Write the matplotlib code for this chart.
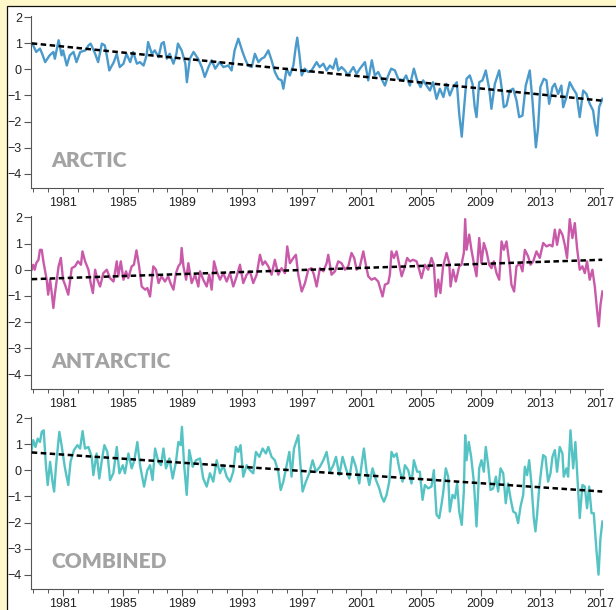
import matplotlib
matplotlib.use("Agg")
import matplotlib.pyplot as plt
from matplotlib.patches import Rectangle
import numpy as np

# ---------------- data ----------------
arctic_years = [1978.85,1979.0,1979.2,1979.45,1979.6,1979.8,1980.1,1980.35,1980.45,1980.7,1980.9,1981.0,1981.25,1981.45,1981.7,1981.9,1982.15,1982.5,1982.7,1982.85,1983.15,1983.35,1983.6,1983.8,1983.95,1984.1,1984.4,1984.6,1984.8,1985.05,1985.25,1985.5,1985.7,1985.95,1986.15,1986.4,1986.6,1986.7,1986.95,1987.15,1987.4,1987.6,1987.75,1987.95,1988.15,1988.4,1988.6,1988.7,1988.95,1989.2,1989.3,1989.5,1989.75,1990.05,1990.3,1990.5,1990.75,1990.96,1991.2,1991.5,1991.75,1992.08,1992.3,1992.5,1992.75,1993.0,1993.2,1993.4,1993.65,1993.86,1994.1,1994.3,1994.5,1994.76,1994.98,1995.2,1995.43,1995.65,1995.77,1995.99,1996.2,1996.44,1996.6,1996.7,1996.84,1997.0,1997.2,1997.44,1997.66,1998.0,1998.2,1998.45,1998.67,1998.89,1999.1,1999.3,1999.45,1999.67,1999.9,2000.1,2000.46,2000.68,2000.9,2001.24,2001.46,2001.7,2001.9,2002.13,2002.35,2002.58,2002.8,2003.0,2003.25,2003.47,2003.8,2004.0,2004.25,2004.52,2004.74,2004.97,2005.14,2005.37,2005.6,2005.8,2006.04,2006.26,2006.5,2006.7,2006.93,2007.15,2007.4,2007.56,2007.73,2007.87,2008.05,2008.27,2008.45,2008.6,2008.72,2008.9,2009.12,2009.34,2009.57,2009.72,2009.95,2010.24,2010.4,2010.55,2010.73,2010.95,2011.18,2011.4,2011.58,2011.8,2012.02,2012.29,2012.47,2012.63,2012.7,2012.85,2013.0,2013.23,2013.41,2013.59,2013.81,2013.97,2014.19,2014.41,2014.53,2014.75,2014.97,2015.2,2015.42,2015.64,2015.87,2016.09,2016.31,2016.54,2016.65,2016.8,2016.94,2017.16]
arctic_values = [0.99,0.92,0.67,0.8,0.6,0.28,0.54,0.67,0.41,1.12,0.54,0.73,0.15,0.54,0.67,0.28,0.67,0.73,0.92,0.99,0.6,0.28,0.99,0.92,0.47,-0.04,0.28,0.6,0.09,0.22,0.6,0.28,0.67,0.22,0.28,0.15,0.54,1.05,0.6,0.73,0.47,0.99,1.05,0.41,0.6,0.22,0.6,0.99,0.73,0.22,-0.49,0.41,0.67,0.41,0.09,-0.29,0.09,0.35,0.03,0.28,0.09,0.15,-0.04,0.73,1.18,0.73,0.41,0.15,0.09,0.6,0.28,0.41,0.47,0.73,0.35,-0.1,-0.36,-0.42,-0.74,0.03,-0.23,0.15,0.86,1.22,0.6,-0.23,0.03,-0.1,-0.04,0.28,0.09,0.22,-0.04,0.15,0.03,0.41,-0.04,0.09,-0.04,-0.23,0.09,-0.17,0.03,0.28,-0.42,0.35,-0.23,-0.1,-0.36,-0.62,-0.23,0.03,-0.04,-0.36,-0.42,-0.23,-0.62,0.03,-0.42,-0.68,-0.42,-0.62,-0.81,-0.49,-1.13,-0.74,-1.06,-0.55,-1.0,-0.68,-0.49,-1.71,-2.58,-1.58,-0.36,-0.23,-0.55,-1.45,-1.83,-0.49,-0.42,-0.04,-0.74,-1.51,-0.55,-0.04,-0.68,-1.45,-1.38,-0.81,-0.74,-1.19,-1.83,-1.77,-0.62,-0.04,-1.19,-2.47,-2.99,-2.22,-0.68,-0.36,-0.42,-1.32,-0.68,-0.55,-0.94,-0.62,-1.45,-1.06,-0.49,-0.74,-0.94,-1.83,-0.81,-0.94,-1.32,-1.58,-2.09,-2.54,-1.45,-1.13]

antarctic_years = [1978.9,1979.0,1979.1,1979.2,1979.35,1979.45,1979.57,1979.68,1979.9,1980.0,1980.13,1980.24,1980.35,1980.46,1980.7,1980.85,1981.0,1981.13,1981.35,1981.58,1981.8,1982.0,1982.2,1982.3,1982.48,1982.7,1982.85,1983.0,1983.15,1983.3,1983.48,1983.7,1983.93,1984.15,1984.38,1984.6,1984.7,1984.87,1985.05,1985.22,1985.37,1985.6,1985.75,1985.92,1986.1,1986.27,1986.5,1986.65,1986.83,1987.05,1987.23,1987.4,1987.6,1987.83,1988.05,1988.2,1988.4,1988.57,1988.73,1988.88,1988.95,1989.07,1989.25,1989.4,1989.62,1989.85,1990.07,1990.18,1990.4,1990.63,1990.8,1990.96,1991.12,1991.3,1991.52,1991.74,1991.97,1992.19,1992.41,1992.64,1992.86,1993.08,1993.31,1993.53,1993.75,1993.98,1994.2,1994.38,1994.54,1994.76,1994.98,1995.2,1995.43,1995.65,1995.88,1996.03,1996.21,1996.44,1996.61,1996.77,1997.0,1997.22,1997.44,1997.66,1997.82,1998.0,1998.22,1998.45,1998.67,1998.78,1999.0,1999.23,1999.45,1999.67,1999.9,2000.12,2000.34,2000.52,2000.68,2000.9,2001.13,2001.3,2001.46,2001.68,2001.9,2002.13,2002.29,2002.42,2002.58,2002.8,2002.91,2003.02,2003.18,2003.36,2003.54,2003.7,2003.92,2004.07,2004.25,2004.47,2004.7,2004.88,2005.03,2005.26,2005.48,2005.7,2005.86,2005.99,2006.15,2006.3,2006.48,2006.71,2006.89,2006.98,2007.15,2007.33,2007.56,2007.71,2007.87,2007.96,2008.05,2008.23,2008.38,2008.54,2008.72,2008.9,2009.05,2009.21,2009.39,2009.57,2009.72,2009.88,2010.06,2010.24,2010.4,2010.55,2010.73,2010.95,2011.06,2011.24,2011.4,2011.62,2011.8,2011.96,2012.18,2012.34,2012.52,2012.74,2012.96,2013.19,2013.41,2013.63,2013.81,2013.97,2014.12,2014.3,2014.48,2014.64,2014.79,2014.97,2015.15,2015.31,2015.46,2015.64,2015.82,2015.98,2016.13,2016.31,2016.49,2016.65,2016.8,2016.92,2017.03,2017.16]
antarctic_values = [0.0,0.19,0.0,0.25,0.38,0.76,0.76,0.32,-0.38,-0.95,-0.38,-0.89,-1.46,-0.89,0.13,0.45,-0.38,-0.57,-0.95,0.06,0.13,0.32,0.19,0.7,0.32,0.0,-0.51,-0.89,0.0,-0.38,-0.64,-0.13,0.0,-0.32,-0.45,0.32,-0.25,0.32,-0.38,-0.06,-0.32,0.13,0.19,0.74,0.13,-0.64,-0.76,-0.7,-1.02,0.13,0.0,-0.51,-0.25,-0.45,-0.25,-0.51,-0.76,-0.13,0.13,0.25,0.83,0.13,-0.38,0.25,-0.51,-0.19,-0.64,-0.06,-0.38,-0.64,-0.19,-0.76,0.32,-0.06,-0.38,-0.13,-0.45,-0.13,-0.64,-0.25,0.19,-0.51,-0.19,-0.06,-0.51,-0.19,0.57,0.19,0.32,0.13,-0.19,0.38,-0.19,0.06,-0.13,0.89,0.25,0.45,0.57,-0.19,-0.83,-0.51,0.0,0.06,-0.19,-0.64,0.06,-0.06,0.25,0.57,-0.19,-0.06,0.32,0.25,0.0,0.13,0.64,0.45,0.0,0.13,0.7,0.19,-0.25,-0.38,-0.32,-0.45,-0.76,-1.02,-0.57,-0.51,-0.19,0.7,0.45,0.7,0.19,-0.25,0.13,0.45,0.32,0.38,0.32,0.0,-0.32,0.19,0.0,0.45,0.19,-1.02,-0.38,-0.89,0.13,0.64,0.25,-0.64,0.0,-0.45,0.13,0.19,0.64,1.93,0.76,1.34,0.76,0.25,-0.25,1.21,0.25,1.02,0.7,0.19,0.06,0.32,-0.13,-0.38,1.08,0.76,1.08,0.13,-0.57,-0.83,0.13,0.25,-0.06,0.76,0.51,0.19,0.32,0.7,0.45,1.02,0.89,0.95,0.89,1.53,0.95,1.53,1.34,0.95,0.45,1.93,1.21,1.78,0.83,0.0,0.13,-0.13,0.32,-0.38,0.0,-0.64,-1.53,-2.16,-1.34,-0.83]

combined_years = [1978.87,1979.0,1979.15,1979.3,1979.45,1979.57,1979.7,1979.85,1979.97,1980.13,1980.29,1980.4,1980.53,1980.75,1980.9,1981.13,1981.35,1981.5,1981.73,1981.96,1982.14,1982.31,1982.47,1982.7,1982.92,1983.03,1983.25,1983.43,1983.6,1983.77,1983.97,1984.15,1984.37,1984.6,1984.78,1985.0,1985.15,1985.38,1985.6,1985.78,1985.98,1986.16,1986.43,1986.65,1986.83,1987.0,1987.17,1987.39,1987.57,1987.73,1987.9,1988.13,1988.35,1988.57,1988.73,1988.88,1988.97,1989.11,1989.29,1989.46,1989.69,1989.91,1990.18,1990.4,1990.63,1990.85,1991.07,1991.3,1991.52,1991.74,1991.97,1992.19,1992.41,1992.59,1992.75,1992.9,1993.08,1993.31,1993.53,1993.75,1993.93,1994.16,1994.38,1994.6,1994.76,1994.98,1995.2,1995.43,1995.59,1995.77,1995.99,1996.17,1996.32,1996.48,1996.66,1996.77,1996.88,1997.06,1997.28,1997.51,1997.73,1997.95,1998.22,1998.45,1998.67,1998.89,1999.12,1999.3,1999.52,1999.74,1999.96,2000.19,2000.41,2000.63,2000.86,2001.01,2001.17,2001.35,2001.53,2001.75,2001.98,2002.2,2002.35,2002.51,2002.69,2002.87,2003.02,2003.18,2003.36,2003.54,2003.76,2003.92,2004.14,2004.36,2004.52,2004.74,2004.92,2005.1,2005.26,2005.48,2005.7,2005.86,2006.04,2006.22,2006.37,2006.48,2006.66,2006.82,2006.93,2007.11,2007.27,2007.42,2007.56,2007.73,2007.87,2007.96,2008.05,2008.2,2008.36,2008.54,2008.72,2008.9,2009.05,2009.21,2009.34,2009.5,2009.66,2009.84,2010.02,2010.17,2010.33,2010.51,2010.68,2010.84,2011.0,2011.18,2011.35,2011.51,2011.67,2011.85,2011.96,2012.11,2012.25,2012.4,2012.56,2012.67,2012.78,2012.92,2013.07,2013.19,2013.34,2013.52,2013.68,2013.81,2013.97,2014.12,2014.3,2014.48,2014.57,2014.75,2014.86,2015.02,2015.2,2015.35,2015.49,2015.64,2015.82,2015.98,2016.13,2016.27,2016.43,2016.58,2016.76,2016.9,2017.03,2017.16]
combined_values = [0.71,1.16,0.9,1.22,1.09,1.48,1.54,0.2,-0.56,0.33,-0.43,-0.81,0.2,1.48,0.97,0.08,-0.56,0.33,0.78,0.97,0.84,1.51,0.84,0.9,0.52,-0.18,0.65,-0.31,0.39,0.97,0.71,-0.37,-0.11,0.9,-0.11,0.2,-0.11,0.65,0.08,0.39,1.09,0.2,-0.62,0.01,0.2,-0.37,0.84,0.33,0.2,0.84,0.08,0.46,-0.31,0.33,1.09,0.97,1.67,0.27,-0.94,0.78,0.14,0.39,0.46,-0.31,-0.62,-0.11,-0.43,0.39,-0.11,0.2,-0.24,-0.43,-0.05,0.9,0.71,0.97,-0.24,0.2,0.01,-0.11,0.71,0.52,0.84,0.65,0.9,0.52,0.39,-0.05,-0.75,-0.43,0.2,0.71,-0.24,0.84,1.16,1.35,0.46,-0.81,-0.43,-0.11,0.39,-0.05,0.14,0.39,0.71,-0.05,0.2,0.52,-0.18,0.52,0.08,-0.31,0.52,0.14,-0.5,0.2,0.84,-0.05,-0.56,0.08,-0.37,-0.69,-1.0,-1.2,-0.94,-0.43,0.71,0.52,0.65,0.08,-0.43,0.2,0.01,-0.5,0.39,-0.05,-0.05,-1.13,-0.56,-0.69,-0.62,0.01,-1.7,-1.83,-1.32,-0.88,0.08,-0.24,-1.58,-0.94,-1.07,-0.5,-1.58,-2.09,-0.81,1.35,0.39,1.09,0.52,-0.43,-2.15,0.08,0.39,-0.05,0.9,0.2,-0.75,-0.69,-0.24,-0.81,0.08,-0.11,-1.26,-0.5,-1.07,-1.58,-1.64,-2.02,-1.39,-0.94,0.14,-0.18,0.39,-0.5,-1.83,-2.34,-1.7,-0.69,0.08,0.59,0.52,-0.43,-0.11,0.52,0.78,-0.05,0.9,0.65,-0.24,0.08,-0.24,1.54,0.08,1.09,-0.31,-1.83,-0.56,-0.62,-1.45,-0.62,-1.64,-1.64,-3.05,-4.0,-2.6,-1.96]

trend_years = [1978.9, 2017.15]
arctic_trend = [1.0, -1.2]
antarctic_trend = [-0.36, 0.38]
combined_trend = [0.69, -0.81]

panel_names = ["ARCTIC", "ANTARCTIC", "COMBINED"]
panel_colors = ["#4A9ACB", "#C85AA9", "#55C3C3"]
y_ticks = [2, 1, 0, -1, -2, -3, -4]
x_major = [1981, 1985, 1989, 1993, 1997, 2001, 2005, 2009, 2013, 2017]

series = [(arctic_years, arctic_values, arctic_trend),
          (antarctic_years, antarctic_values, antarctic_trend),
          (combined_years, combined_values, combined_trend)]

# ---------------- figure ----------------
W, H = 616, 610
fig = plt.figure(figsize=(W / 100, H / 100), dpi=100)
fig.patch.set_facecolor("#FEF8CA")
fig.add_artist(Rectangle((7 / W, -0.01), 1.0, 1 - 6 / H + 0.01, transform=fig.transFigure,
                         facecolor="white", edgecolor="#111111", linewidth=0.9, zorder=0))

left = 31 / W
width = (603 - 31) / W
tops = [16, 216, 417]
bottoms = [188, 389, 589]

for i, ((yrs, vals, tr), name, col) in enumerate(zip(series, panel_names, panel_colors)):
    b = 1 - bottoms[i] / H
    h = (bottoms[i] - tops[i]) / H
    ax = fig.add_axes([left, b, width, h])
    ax.patch.set_alpha(0)
    ax.plot(yrs, vals, color=col, lw=1.7, solid_joinstyle="round", zorder=2)
    ax.plot(trend_years, tr, color="black", lw=1.8, dashes=(2.2, 1.4), zorder=3)
    ax.set_xlim(1978.85, 2017.2)
    ax.set_ylim(-4.55, 2.05)
    for s in ["top", "right"]:
        ax.spines[s].set_visible(False)
    for s in ["left", "bottom"]:
        ax.spines[s].set_color("#555555")
        ax.spines[s].set_linewidth(0.8)
    ax.set_yticks(y_ticks)
    ax.set_yticklabels([("\u2212" + str(-t)) if t < 0 else str(t) for t in y_ticks])
    ax.set_xticks(x_major)
    ax.set_xticklabels([str(t) for t in x_major])
    ax.set_xticks(list(range(1979, 2018)), minor=True)
    ax.tick_params(axis="both", which="major", direction="out", length=5, width=0.8,
                   color="#555555", labelsize=9, labelcolor="#222222", pad=1.5)
    ax.tick_params(axis="x", which="minor", direction="out", length=3, width=0.7, color="#555555")
    for lab in ax.get_xticklabels() + ax.get_yticklabels():
        lab.set_fontfamily("Liberation Sans")
    ax.text(0.036, 0.157, name, transform=ax.transAxes, ha="left", va="center",
            fontsize=15, fontweight="heavy", color="#A3A3A3", family="Lato")

fig.savefig("out.png", dpi=100, facecolor=fig.get_facecolor())
